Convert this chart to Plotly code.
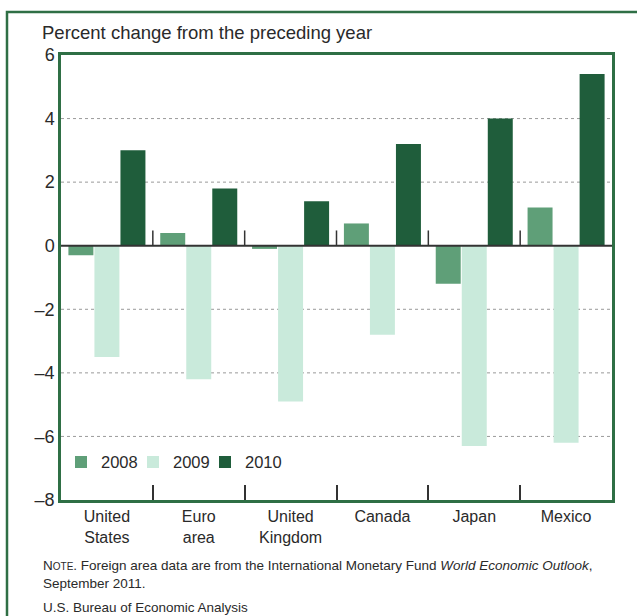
import plotly.graph_objects as go

categories = ["United<br>States", "Euro<br>area", "United<br>Kingdom", "Canada", "Japan", "Mexico"]
years = ["2008", "2009", "2010"]
values_2008 = [-0.3, 0.4, -0.1, 0.7, -1.2, 1.2]
values_2009 = [-3.5, -4.2, -4.9, -2.8, -6.3, -6.2]
values_2010 = [3.0, 1.8, 1.4, 3.2, 4.0, 5.4]
colors = ["#5f9f78", "#c9eadb", "#1f5d3b"]
ytick_vals = [6, 4, 2, 0, -2, -4, -6, -8]
ytick_text = ["6", "4", "2", "0", "\u20132", "\u20134", "\u20136", "\u20138"]

FONT = "Liberation Sans, Arial, sans-serif"
FRAME = "#2f6f45"

fig = go.Figure()
for name, vals, col in zip(years, [values_2008, values_2009, values_2010], colors):
    fig.add_trace(go.Bar(x=categories, y=vals, name=name, marker=dict(color=col, line=dict(width=0))))
# invisible spacer legend entry so the last real entry is not clipped
fig.add_trace(go.Scatter(x=[None], y=[None], mode="markers", name=" ",
                         marker=dict(color="rgba(0,0,0,0)"), hoverinfo="skip"))

W, H = 637, 616
ml, mr, mt, mb = 61, 25, 55, 116
pw, ph = W - ml - mr, H - mt - mb

def px_x(p):
    return (p - ml) / pw

def px_y(p):
    return (H - mb - p) / ph

shapes = []
# outer green frame
shapes.append(dict(type="rect", xref="paper", yref="paper", x0=px_x(7), x1=px_x(660), y0=px_y(640), y1=px_y(12),
                   line=dict(color=FRAME, width=2.5), fillcolor="rgba(0,0,0,0)", layer="below"))
# dotted grid lines
for v in ytick_vals:
    if v in (6, -8, 0):
        continue
    shapes.append(dict(type="line", xref="paper", yref="y", x0=0, x1=1, y0=v, y1=v,
                       line=dict(color="#9a9a9a", width=1, dash="dot"), layer="below"))
# zero line
shapes.append(dict(type="line", xref="paper", yref="y", x0=0, x1=1, y0=0, y1=0,
                   line=dict(color="#333333", width=2)))
# group separator ticks at the zero line
n = len(categories)
for i in range(n - 1):
    b = i + 0.5
    shapes.append(dict(type="line", xref="x", yref="y", x0=b, x1=b, y0=0, y1=0.48,
                       line=dict(color="#333333", width=1.5)))

fig.update_layout(
    width=W, height=H,
    margin=dict(l=ml, r=mr, t=mt, b=mb, autoexpand=False),
    paper_bgcolor="white", plot_bgcolor="white",
    barmode="group", bargap=0.15, bargroupgap=0.04,
    font=dict(family=FONT, color="#2a2a2a", size=16),
    showlegend=True,
    legend=dict(orientation="h", x=0.0, y=0.085, xanchor="left", yanchor="middle",
                font=dict(size=16.5, color="#2a2a2a"), bgcolor="rgba(0,0,0,0)",
                itemwidth=30, traceorder="normal", tracegroupgap=0,
                entrywidth=27, entrywidthmode="pixels"),
    shapes=shapes,
    xaxis=dict(showgrid=False, showline=True, linecolor=FRAME, linewidth=2.5, mirror=True,
               ticks="inside", tickson="boundaries", ticklen=15, tickcolor="#333333", tickwidth=1.5,
               tickfont=dict(size=16, color="#2a2a2a"), fixedrange=True),
    yaxis=dict(range=[-8, 6], tickvals=ytick_vals, ticktext=ytick_text, showgrid=False,
               zeroline=False, showline=True, linecolor=FRAME, linewidth=2.5, mirror=True,
               ticks="", tickfont=dict(size=18, color="#2a2a2a"), ticklabelstandoff=0),
    annotations=[
        dict(text="Percent change from the preceding year", xref="paper", yref="paper",
             x=px_x(40), y=px_y(33), xanchor="left", yanchor="middle", showarrow=False,
             font=dict(size=18.5, color="#2a2a2a")),
        dict(text="N<span style='font-size:10px'>OTE</span>. Foreign area data are from the International Monetary Fund <i>World Economic Outlook</i>,<br>September 2011.",
             xref="paper", yref="paper", x=px_x(41), y=px_y(556), xanchor="left", yanchor="top",
             align="left", showarrow=False, font=dict(size=13.5, color="#2a2a2a")),
        dict(text="U.S. Bureau of Economic Analysis", xref="paper", yref="paper",
             x=px_x(41), y=px_y(607), xanchor="left", yanchor="middle", showarrow=False,
             font=dict(size=13.5, color="#2a2a2a")),
    ],
)

fig.write_html("out.html", config={"displayModeBar": False},
               post_script="document.body.style.margin='0';document.body.style.overflow='hidden';")
